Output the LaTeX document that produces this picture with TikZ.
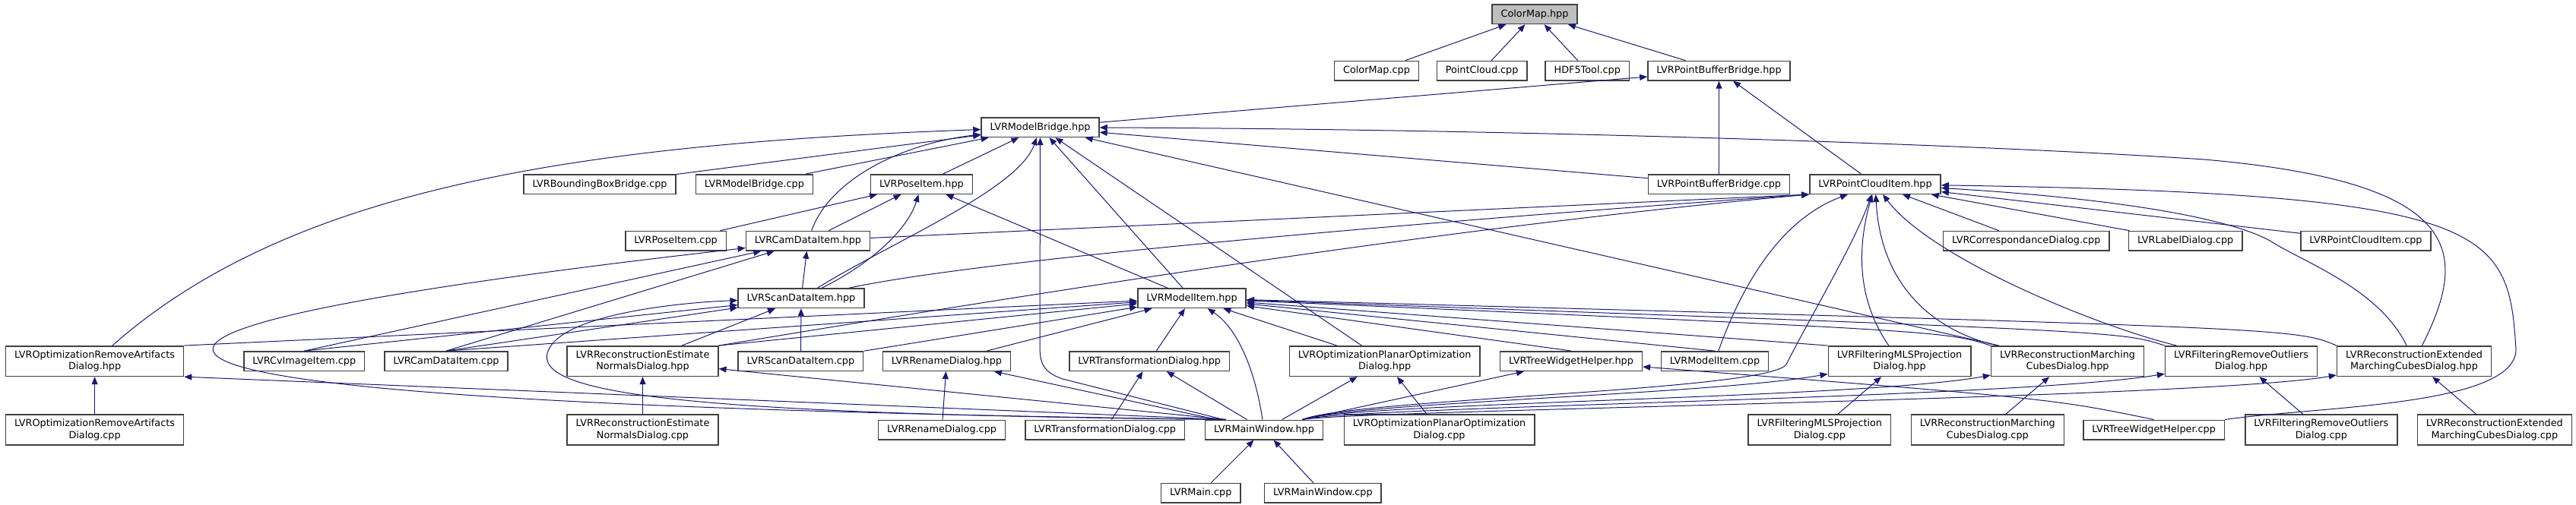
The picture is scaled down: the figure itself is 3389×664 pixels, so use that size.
\documentclass[tikz,border=0pt]{standalone}
\usepackage{fontspec}
\setmainfont{DejaVu Sans}
\usepackage{tikz}
\usetikzlibrary{arrows.meta}
\usepackage{xcolor}
\definecolor{edgeblue}{HTML}{191970}
\definecolor{boxline}{HTML}{404040}
\definecolor{mapgray}{HTML}{BFBFBF}
\tikzset{
	file/.style={draw=boxline,line width=0.75pt,fill=white,inner xsep=5.75pt,inner ysep=3pt,minimum height=12.75pt,align=center,font=\fontsize{6.4}{7.6}\selectfont},
	dep/.style={draw=edgeblue,line width=0.5pt,-{Triangle[length=5pt,width=4pt]}}
}

\begin{document}
\begin{tikzpicture}[x=0.5pt,y=-0.5pt]
				\useasboundingbox (0,0) rectangle (3389,664);
				\node(cmh) at (2019,18.7)[file,fill=mapgray]{ColorMap.hpp};
				\node(cmc) at (1811,93.2)[file]{ColorMap.cpp};
				\node(pcc) at (1949.6,93.2)[file]{PointCloud.cpp};
				\node(h5c) at (2088.3,93.2)[file]{HDF5Tool.cpp};
				\node(pbbh) at (2261.5,93.2)[file]{LVRPointBufferBridge.hpp};
				\node(mbh) at (1368.5,167.7)[file]{LVRModelBridge.hpp};
				\node(bbbc) at (789,242.5)[file]{LVRBoundingBoxBridge.cpp};
				\node(mbc) at (992.4,242.5)[file]{LVRModelBridge.cpp};
				\node(pih) at (1212.5,242.5)[file]{LVRPoseItem.hpp};
				\node(pbbc) at (2261.5,242.5)[file]{LVRPointBufferBridge.cpp};
				\node(pcih) at (2467,242.5)[file]{LVRPointCloudItem.hpp};
				\node(pic) at (889,317.2)[file]{LVRPoseItem.cpp};
				\node(cdih) at (1063,317.2)[file]{LVRCamDataItem.hpp};
				\node(cdc) at (2665.8,317.2)[file]{LVRCorrespondanceDialog.cpp};
				\node(ldc) at (2875.2,317.2)[file]{LVRLabelDialog.cpp};
				\node(pcic) at (3112.4,317.2)[file]{LVRPointCloudItem.cpp};
				\node(sdih) at (1054,392.7)[file]{LVRScanDataItem.hpp};
				\node(mih) at (1568,392.7)[file]{LVRModelItem.hpp};
				\node(orah) at (124.6,475.6)[file]{LVROptimizationRemoveArtifacts\\Dialog.hpp};
				\node(cvic) at (400.3,475.6)[file]{LVRCvImageItem.cpp};
				\node(cdic) at (587,475.6)[file]{LVRCamDataItem.cpp};
				\node(renh) at (845.5,475.6)[file]{LVRReconstructionEstimate\\NormalsDialog.hpp};
				\node(sdic) at (1053.4,475.6)[file]{LVRScanDataItem.cpp};
				\node(rdh) at (1245.5,475.6)[file]{LVRRenameDialog.hpp};
				\node(tdh) at (1512.2,475.6)[file]{LVRTransformationDialog.hpp};
				\node(opoh) at (1821.7,475.6)[file]{LVROptimizationPlanarOptimization\\Dialog.hpp};
				\node(twhh) at (2067,475.6)[file]{LVRTreeWidgetHelper.hpp};
				\node(mic) at (2256,475.6)[file]{LVRModelItem.cpp};
				\node(fmlsh) at (2499,475.6)[file]{LVRFilteringMLSProjection\\Dialog.hpp};
				\node(rmch) at (2720,475.6)[file]{LVRReconstructionMarching\\CubesDialog.hpp};
				\node(froh) at (2948.5,475.6)[file]{LVRFilteringRemoveOutliers\\Dialog.hpp};
				\node(remch) at (3176,475.6)[file]{LVRReconstructionExtended\\MarchingCubesDialog.hpp};
				\node(orac) at (124.6,566)[file]{LVROptimizationRemoveArtifacts\\Dialog.cpp};
				\node(renc) at (845.5,566)[file]{LVRReconstructionEstimate\\NormalsDialog.cpp};
				\node(rdc) at (1239,566)[file]{LVRRenameDialog.cpp};
				\node(tdc) at (1453.7,566)[file]{LVRTransformationDialog.cpp};
				\node(mwh) at (1663,566)[file]{LVRMainWindow.hpp};
				\node(opoc) at (1893.5,566)[file]{LVROptimizationPlanarOptimization\\Dialog.cpp};
				\node(fmlsc) at (2393.8,566)[file]{LVRFilteringMLSProjection\\Dialog.cpp};
				\node(rmcc) at (2614.8,566)[file]{LVRReconstructionMarching\\CubesDialog.cpp};
				\node(twhc) at (2833.6,566)[file]{LVRTreeWidgetHelper.cpp};
				\node(froc) at (3053.8,566)[file]{LVRFilteringRemoveOutliers\\Dialog.cpp};
				\node(remcc) at (3281.8,566)[file]{LVRReconstructionExtended\\MarchingCubesDialog.cpp};
				\node(mainc) at (1579.7,649.3)[file]{LVRMain.cpp};
				\node(mwc) at (1740.4,649.3)[file]{LVRMainWindow.cpp};

				\draw[dep] (cmc) -- (cmh);
				\draw[dep] (pcc) -- (cmh);
				\draw[dep] (h5c) -- (cmh);
				\draw[dep] (pbbh) -- (cmh);
				\draw[dep] (mbh) -- (pbbh);
				\draw[dep] (pbbc) -- (pbbh);
				\draw[dep] (pcih) -- (pbbh);

				\draw[dep] (orah) .. controls (380,250) and (750,190) .. (mbh);
				\draw[dep] (bbbc) -- (mbh);
				\draw[dep] (mbc) -- (mbh);
				\draw[dep] (cdih) .. controls (1090,240) and (1180,190) .. (mbh);
				\draw[dep] (pih) -- (mbh);
				\draw[dep] (sdih) .. controls (1170,320) and (1340,250) .. (mbh);
				\draw[dep] (mwh) -- (1398,499) .. controls (1372,490) and (1368,478) .. (1368,455) -- (mbh);
				\draw[dep] (mih) -- (mbh);
				\draw[dep] (opoh) -- (mbh);
				\draw[dep] (rmch) -- (mbh);
				\draw[dep] (pbbc) -- (mbh);
				\draw[dep] (remch) .. controls (3250,330) and (3240,240) .. (2900,210) .. controls (2600,190) and (2000,170) .. (mbh);

				\draw[dep] (pic) -- (pih);
				\draw[dep] (cdih) -- (pih);
				\draw[dep] (sdih) .. controls (1150,345) and (1195,300) .. (pih);
				\draw[dep] (mih) -- (pih);

				\draw[dep] (sdih) -- (cdih);
				\draw[dep] (mwh.165) .. controls (-60,530) and (-20,440) .. (cdih);
				\draw[dep] (cvic.north) -- (cdih);
				\draw[dep] (cdic.north) -- (cdih);

				\draw[dep] (sdic) -- (sdih);
				\draw[dep] (renh) -- (sdih);
				\draw[dep] (cvic.north) -- (sdih);
				\draw[dep] (cdic.north) -- (sdih);
				\draw[dep] (mwh.165) .. controls (900,545) and (680,520) .. (725,455) .. controls (755,412) and (900,398) .. (sdih);

				\draw[dep] (cdih) -- (pcih.south west);
				\draw[dep] (sdih) .. controls (1300,340) and (1900,290) .. (pcih.south west);
				\draw[dep] (renh.north east) .. controls (1400,380) and (1900,300) .. (pcih.south west);
				\draw[dep] (mic) .. controls (2290,380) and (2340,290) .. (pcih);
				\draw[dep] (mwh.15) .. controls (1780,525) and (2325,515) .. (2350,480) .. controls (2380,420) and (2440,320) .. (pcih);
				\draw[dep] (fmlsh) .. controls (2440,390) and (2445,320) .. (pcih);
				\draw[dep] (rmch) .. controls (2560,440) and (2475,390) .. (pcih);
				\draw[dep] (froh) .. controls (2760,430) and (2540,340) .. (pcih);
				\draw[dep] (remch) .. controls (3130,380) and (3030,345) .. (2988,318) .. controls (2940,290) and (2800,262) .. (pcih);
				\draw[dep] (cdc) -- (pcih);
				\draw[dep] (ldc) -- (pcih);
				\draw[dep] (pcic) -- (pcih);
				\draw[dep] (twhc.north east) .. controls (3050,535) and (3310,535) .. (3310,460) .. controls (3300,300) and (3280,255) .. (pcih);

				\draw[dep] (orah.north east) -- (mih);
				\draw[dep] (cdic.north) -- (mih);
				\draw[dep] (renh.north east) -- (mih);
				\draw[dep] (sdic) -- (mih);
				\draw[dep] (rdh) -- (mih);
				\draw[dep] (tdh) -- (mih);
				\draw[dep] (mwh) .. controls (1650,480) and (1625,430) .. (mih);
				\draw[dep] (opoh) -- (mih);
				\draw[dep] (twhh.north) -- (mih);
				\draw[dep] (mic.north) -- (mih);
				\draw[dep] (fmlsh.north west) -- (mih);
				\draw[dep] (rmch.north west) .. controls (2560,436) .. (mih);
				\draw[dep] (froh.north west) .. controls (2790,436) .. (mih);
				\draw[dep] (remch.north west) .. controls (3020,432) .. (mih);

				\draw[dep] (mwh.165) -- (orah.south east);
				\draw[dep] (mwh.165) -- (renh);
				\draw[dep] (mwh) -- (rdh);
				\draw[dep] (mwh) -- (tdh);
				\draw[dep] (mwh) -- (opoh);
				\draw[dep] (mwh.15) -- (twhh);
				\draw[dep] (mwh.15) .. controls (1780,530) and (2250,520) .. (fmlsh);
				\draw[dep] (mwh.15) .. controls (1780,530) and (2450,525) .. (rmch);
				\draw[dep] (mwh.15) .. controls (1780,535) and (2650,525) .. (froh);
				\draw[dep] (mwh.15) .. controls (1780,540) and (2900,525) .. (remch);

				\draw[dep] (orac) -- (orah);
				\draw[dep] (renc) -- (renh);
				\draw[dep] (rdc) -- (rdh);
				\draw[dep] (tdc) -- (tdh);
				\draw[dep] (opoc) -- (opoh);
				\draw[dep] (fmlsc) -- (fmlsh);
				\draw[dep] (rmcc) -- (rmch);
				\draw[dep] (froc) -- (froh);
				\draw[dep] (remcc) -- (remch);
				\draw[dep] (twhc.north) .. controls (2700,525) .. (twhh);
				\draw[dep] (mainc) -- (mwh);
				\draw[dep] (mwc) -- (mwh);
			\end{tikzpicture}
\end{document}
